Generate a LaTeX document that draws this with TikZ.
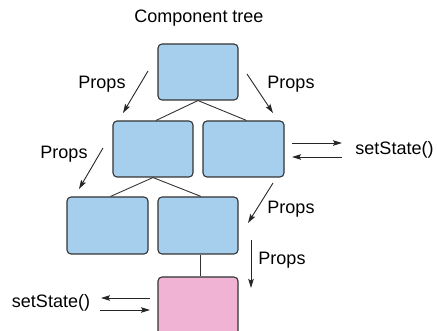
\documentclass[tikz,border=0pt]{standalone}
\usepackage{fontspec}
\setmainfont{Liberation Sans}
\usetikzlibrary{arrows.meta}
\definecolor{boxblue}{HTML}{A6CFEE}
\definecolor{boxpink}{HTML}{F0B3D3}
\definecolor{edge}{HTML}{333333}
\begin{document}
\begin{tikzpicture}[x=1pt,y=-1pt,
  comp/.style={draw=edge, line width=1.1pt, rounded corners=4pt, fill=boxblue,
    minimum width=80pt, minimum height=56pt, inner sep=0pt},
  pinkcomp/.style={comp, fill=boxpink},
  treeline/.style={draw=edge, line width=0.9pt},
  flow/.style={draw=black!85, line width=0.9pt, -{Stealth[length=9pt,width=5.5pt,inset=1.5pt]}},
  lbl/.style={font=\fontsize{18}{21}\selectfont, inner sep=0pt}
]
\useasboundingbox (0,0) rectangle (437,331);
\node[lbl] (title) at (199,18) {Component tree};

\node[comp] (top) at (198,72) {};
\node[comp] (l2a) at (153,149) {};
\node[comp, minimum width=81pt] (l2b) at (243.5,149) {};
\node[comp, minimum width=81pt, minimum height=57pt] (l3a) at (107.5,225.5) {};
\node[comp, minimum height=57pt] (l3b) at (198,225.5) {};
\node[pinkcomp, minimum height=62pt] (pk) at (198,308) {};

\draw[treeline] (top.south) -- ([xshift=3pt]l2a.north);
\draw[treeline] (top.south) -- ([xshift=3pt]l2b.north);
\draw[treeline] (l2a.south) -- ([xshift=3pt]l3a.north);
\draw[treeline] (l2a.south) -- ([xshift=3pt]l3b.north);
\draw[treeline] ([xshift=2pt]l3b.south) -- ([xshift=2pt]pk.north);

% Props arrows
\coordinate (a1s) at (148,71);  \coordinate (a1e) at (123,113);
\coordinate (a2s) at (247,74);  \coordinate (a2e) at (273,113);
\coordinate (a3s) at (103,148); \coordinate (a3e) at (79,189);
\coordinate (a4s) at (273,183); \coordinate (a4e) at (248,223);
\coordinate (a5s) at (251,240); \coordinate (a5e) at (251,288);
\draw[flow] (a1s) -- (a1e);
\draw[flow] (a2s) -- (a2e);
\draw[flow] (a3s) -- (a3e);
\draw[flow] (a4s) -- (a4e);
\draw[flow] (a5s) -- (a5e);
\node[lbl] (p1) at (102,84) {Props};
\node[lbl] (p2) at (291,84) {Props};
\node[lbl] (p3) at (64,154) {Props};
\node[lbl] (p4) at (291,209) {Props};
\node[lbl] (p5) at (282,260) {Props};

% setState arrows
\coordinate (s1s) at (292,143); \coordinate (s1e) at (342,143);
\coordinate (s2s) at (342,157); \coordinate (s2e) at (292,157);
\coordinate (s3s) at (150,298); \coordinate (s3e) at (101,298);
\coordinate (s4s) at (100,310); \coordinate (s4e) at (150,310);
\draw[flow] (s1s) -- (s1e);
\draw[flow] (s2s) -- (s2e);
\draw[flow] (s3s) -- (s3e);
\draw[flow] (s4s) -- (s4e);
\node[lbl] (ss1) at (394.5,150) {setState()};
\node[lbl] (ss2) at (51,303) {setState()};
\end{tikzpicture}
\end{document}
